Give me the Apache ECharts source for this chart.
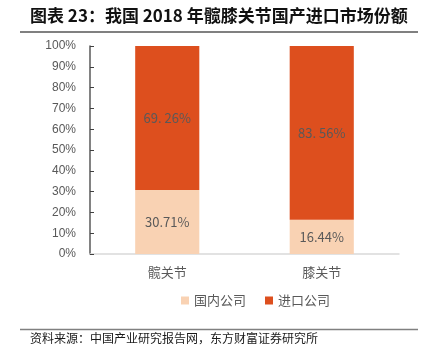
<!DOCTYPE html>
<html><head><meta charset="utf-8">
<script src="https://cdn.jsdelivr.net/npm/echarts@6/dist/echarts.min.js"></script>
<style>html,body{margin:0;padding:0;background:#fff;}#c{width:428px;height:357px;}</style>
</head><body><div id="c"></div>
<script>
var categories = ['髋关节', '膝关节'];
var domestic = [30.71, 16.44];
var imported = [69.26, 83.56];
var importedLabels = ['69. 26%', '83. 56%'];
var domesticLabels = ['30.71%', '16.44%'];
var seriesNames = ['国内公司', '进口公司'];
var titleText = '图表 23：我国 2018 年髋膝关节国产进口市场份额';
var sourceText = '资料来源：中国产业研究报告网，东方财富证券研究所';

var font = '"Noto Sans CJK SC", "Noto Sans", sans-serif';
var chart = echarts.init(document.getElementById('c'), null, {renderer: 'canvas'});
chart.setOption({
  animation: false,
  backgroundColor: '#fff',
  textStyle: {fontFamily: font},
  grid: {left: 90, right: 29, top: 46, bottom: 103, containLabel: false},
  legend: {
    data: seriesNames, bottom: 45, left: 176, itemWidth: 8, itemHeight: 8, itemGap: 19,
    icon: 'rect',
    textStyle: {color: '#595959', fontSize: 13, fontFamily: font}
  },
  xAxis: {
    type: 'category', data: categories,
    axisLine: {lineStyle: {color: '#d9d9d9', width: 1.5}},
    axisTick: {show: false},
    axisLabel: {color: '#595959', fontSize: 13, margin: 12, fontFamily: font}
  },
  yAxis: {
    type: 'value', min: 0, max: 100, interval: 10,
    axisLine: {show: true, lineStyle: {color: '#595959', width: 1.5}},
    axisTick: {show: true, inside: true, length: 4, lineStyle: {color: '#404040', width: 1}},
    splitLine: {show: false},
    axisLabel: {color: '#595959', fontSize: 12, margin: 14, formatter: '{value}%', fontFamily: 'Liberation Sans, sans-serif'}
  },
  series: [
    {
      name: seriesNames[0], type: 'bar', stack: 's', data: domestic, barWidth: '41.5%',
      itemStyle: {color: '#f9d2b3'},
      label: {show: true, position: 'inside', color: '#595959', fontSize: 13,
        formatter: function(p){ return domesticLabels[p.dataIndex]; }}
    },
    {
      name: seriesNames[1], type: 'bar', stack: 's', data: imported, barWidth: '41.5%',
      itemStyle: {color: '#dd4f1e'},
      label: {show: true, position: 'inside', color: '#595959', fontSize: 13,
        formatter: function(p){ return importedLabels[p.dataIndex]; }}
    }
  ],
  graphic: [
    {type: 'text', left: 30, top: 7, style: {text: titleText, font: 'bold 17px ' + font, fill: '#111'}},
    {type: 'line', shape: {x1: 20, y1: 32, x2: 418, y2: 32}, style: {stroke: '#808080', lineWidth: 2}},
    {type: 'line', shape: {x1: 20, y1: 329.5, x2: 418, y2: 329.5}, style: {stroke: '#808080', lineWidth: 1.5}},
    {type: 'text', left: 30, top: 332, style: {text: sourceText, font: '12px ' + font, fill: '#1a1a1a'}}
  ]
});
</script></body></html>
